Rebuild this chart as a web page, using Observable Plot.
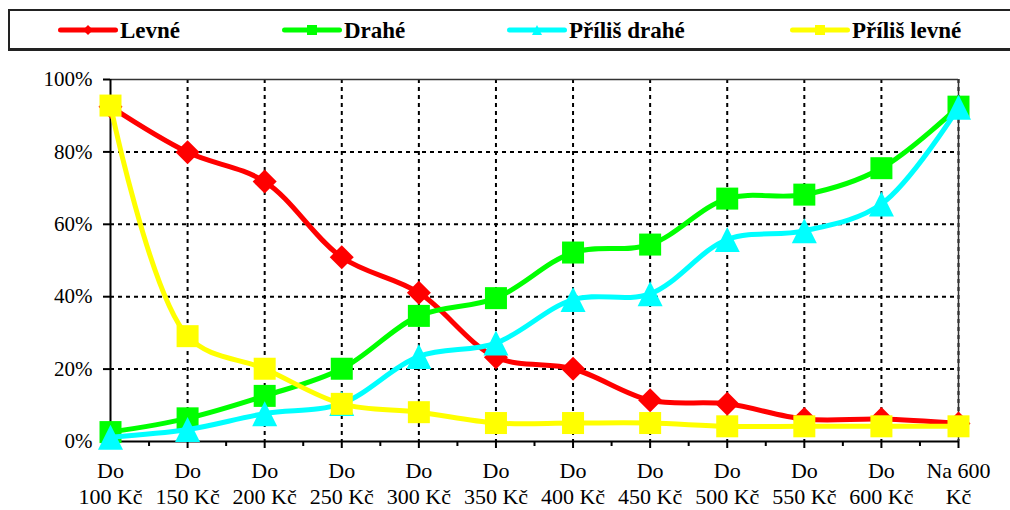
<!DOCTYPE html>
<html>
<head>
<meta charset="utf-8">
<script src="https://cdn.jsdelivr.net/npm/d3@7"></script>
<script src="https://cdn.jsdelivr.net/npm/@observablehq/plot@0.6"></script>
<style>
  body { margin: 0; background: #fff; font-family: "Liberation Serif", "Times New Roman", serif; }
  #legend {
    position: absolute; left: 8px; top: 9px; width: 1010px; height: 42px;
    box-sizing: border-box; border: 2px solid #222; border-bottom-width: 3px; background: #fff;
  }
  .item { position: absolute; top: 0; height: 38px; display: flex; align-items: center; }
  .item span { font-weight: bold; font-size: 23px; color: #000; margin-left: 2px; position: relative; top: 1px; }
  #chart { position: absolute; left: 0; top: 55px; }
  #chart svg text { font-family: "Liberation Serif", "Times New Roman", serif; }
</style>
</head>
<body>
<div id="legend"></div>
<div id="chart"></div>
<script>
// Price bands asked about (two-line labels)
const categories = [
  "Do\n100 Kč", "Do\n150 Kč", "Do\n200 Kč", "Do\n250 Kč", "Do\n300 Kč", "Do\n350 Kč",
  "Do\n400 Kč", "Do\n450 Kč", "Do\n500 Kč", "Do\n550 Kč", "Do\n600 Kč", "Na 600\nKč"
];

// Share of respondents (%) per price band
const levne       = [92.5, 79.9, 71.8, 50.9, 41.1, 23.3, 20.1, 11.4, 10.4, 6.2, 6.2, 5.0];
const drahe       = [2.6, 6.4, 12.6, 20.1, 34.7, 39.6, 52.2, 54.4, 67.1, 68.2, 75.5, 92.5];
const prilisDrahe = [1.2, 3.3, 7.7, 10.5, 23.5, 27.2, 39.2, 40.8, 55.8, 58.2, 65.6, 92.3];
const prilisLevne = [92.8, 29.1, 20.1, 10.4, 8.1, 5.1, 5.1, 5.1, 4.2, 4.2, 4.2, 4.2];

const seriesNames = ["Levné", "Drahé", "Příliš drahé", "Příliš levné"];
const seriesValues = [levne, drahe, prilisDrahe, prilisLevne];
const seriesColors = ["#ff0000", "#00ff00", "#00ffff", "#ffff00"];

// Marker shapes; size comes in as r²π from Plot.dot
const radius = (size) => Math.sqrt(size / Math.PI);
const diamond = { draw(ctx, size) { const r = radius(size); ctx.moveTo(0, -r); ctx.lineTo(r, 0); ctx.lineTo(0, r); ctx.lineTo(-r, 0); ctx.closePath(); } };
const square = { draw(ctx, size) { const r = radius(size); ctx.rect(-r, -r, 2 * r, 2 * r); } };
const triangle = { draw(ctx, size) { const r = radius(size); ctx.moveTo(0, -r); ctx.lineTo(r, r); ctx.lineTo(-r, r); ctx.closePath(); } };
const seriesSymbols = [diamond, square, triangle, square];
const seriesRadius = [12, 11, 12.5, 11];

const data = seriesNames.flatMap((name, s) =>
  seriesValues[s].map((v, i) => ({ series: s, name, i, value: v }))
);

const font = "'Liberation Serif', 'Times New Roman', serif";
const dash = { stroke: "#000", strokeOpacity: 1, strokeWidth: 2, strokeDasharray: "4,4" };

const seriesMarks = seriesNames.flatMap((name, s) => {
  const rows = data.filter((d) => d.series === s);
  return [
    Plot.line(rows, { x: "i", y: "value", stroke: seriesColors[s], strokeWidth: 5, curve: "catmull-rom" }),
    Plot.dot(rows, { x: "i", y: "value", symbol: () => seriesSymbols[s], r: seriesRadius[s], fill: seriesColors[s], stroke: "none" })
  ];
});

const chart = Plot.plot({
  width: 1010,
  height: 455,
  marginLeft: 110,
  marginRight: 52,
  marginTop: 24,
  marginBottom: 69,
  style: { fontFamily: font, fontSize: "21px", color: "#000", background: "#fff" },
  x: { type: "linear", domain: [0, categories.length - 1] },
  y: { domain: [0, 100] },
  symbol: { type: "identity" },
  marks: [
    Plot.gridY([20, 40, 60, 80], dash),
    Plot.gridX(d3.range(1, categories.length), dash),
    Plot.ruleY([100], { stroke: "#333", strokeWidth: 1.5 }),
    Plot.ruleX([categories.length - 1], { stroke: "#333", strokeWidth: 1.5 }),
    Plot.axisY({
      ticks: [0, 20, 40, 60, 80, 100],
      tickFormat: (d) => d + "%",
      tickSize: 7, tickPadding: 11, strokeWidth: 2,
      fontSize: 21, label: null
    }),
    Plot.axisX({
      ticks: d3.range(categories.length),
      tickFormat: (i) => categories[i],
      tickSize: 7, tickPadding: 10, strokeWidth: 2,
      fontSize: 22, lineHeight: 1.22, label: null
    }),
    Plot.axisX({
      ticks: d3.range(0.5, categories.length - 1, 1),
      tickSize: 5, strokeWidth: 2, text: null, label: null
    }),
    Plot.ruleX([0], { stroke: "#000", strokeWidth: 2 }),
    Plot.ruleY([0], { stroke: "#000", strokeWidth: 2 }),
    ...seriesMarks
  ]
});
document.getElementById("chart").append(chart);

// Legend strip above the chart
const legendLeft = [48, 272, 497, 780];
const legend = document.getElementById("legend");
seriesNames.forEach((name, s) => {
  const item = document.createElement("div");
  item.className = "item";
  item.style.left = legendLeft[s] + "px";
  const svg = d3.create("svg").attr("width", 60).attr("height", 20);
  svg.append("line").attr("x1", 2.5).attr("x2", 57.5).attr("y1", 10).attr("y2", 10)
    .attr("stroke", seriesColors[s]).attr("stroke-width", 5).attr("stroke-linecap", "round");
  const path = d3.path();
  seriesSymbols[s].draw(path, Math.PI * 25);
  svg.append("path").attr("d", path.toString()).attr("transform", "translate(30,10)")
    .attr("fill", seriesColors[s]);
  item.append(svg.node());
  const label = document.createElement("span");
  label.textContent = name;
  item.append(label);
  legend.append(item);
});
</script>
</body>
</html>
